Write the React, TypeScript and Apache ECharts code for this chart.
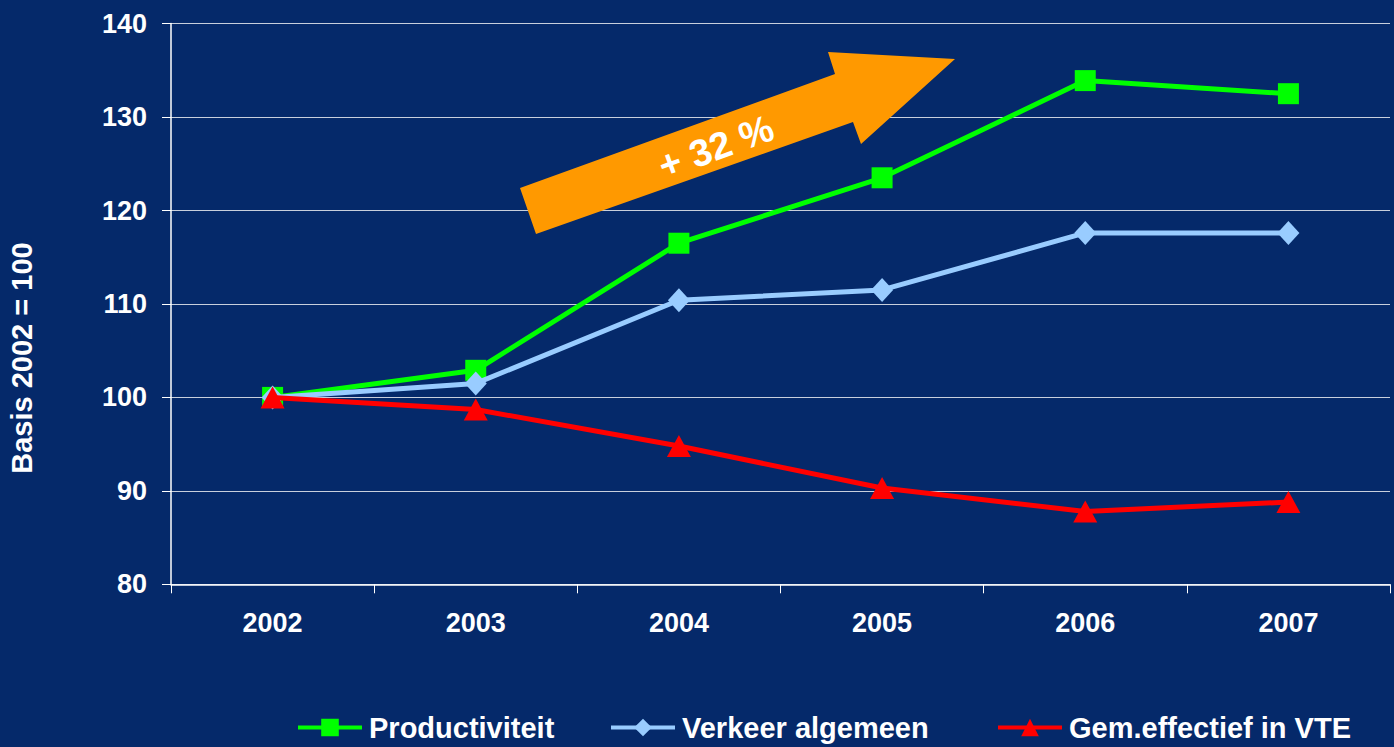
import React, { useEffect, useRef } from "react";
import * as echarts from "echarts";

const years = ["2002", "2003", "2004", "2005", "2006", "2007"];
const productiviteit = [100, 102.9, 116.5, 123.5, 133.9, 132.5];
const verkeer = [100, 101.5, 110.4, 111.5, 117.6, 117.6];
const effectief = [100, 98.7, 94.8, 90.3, 87.8, 88.8];
const seriesNames = ["Productiviteit", "Verkeer algemeen", "Gem.effectief in VTE"];
const yAxisTitle = "Basis 2002 = 100";
const arrowLabel = "+ 32 %";

const FONT = "'Liberation Sans', Arial, sans-serif";

export default function App() {
  const ref = useRef<HTMLDivElement>(null);
  useEffect(() => {
    if (!ref.current) return;
    const chart = echarts.init(ref.current, null, { renderer: "svg" });
    const textBase = { color: "#ffffff", fontFamily: FONT, fontWeight: "bold" as const };
    chart.setOption({
      animation: false,
      backgroundColor: "#05296a",
      grid: { left: 171, right: 4, top: 23.6, bottom: 162.7, containLabel: false },
      xAxis: {
        type: "category",
        data: years,
        boundaryGap: true,
        axisLine: { lineStyle: { color: "#ffffff", width: 1.5 } },
        axisTick: { show: true, length: 9, lineStyle: { color: "#ffffff" } },
        axisLabel: { ...textBase, fontSize: 27, margin: 25 },
        splitLine: { show: false },
      },
      yAxis: {
        type: "value",
        min: 80,
        max: 140,
        interval: 10,
        axisLine: { show: true, lineStyle: { color: "#ffffff", width: 1.5 } },
        axisTick: { show: true, length: 9, lineStyle: { color: "#ffffff" } },
        axisLabel: { ...textBase, fontSize: 27, margin: 24 },
        splitLine: { show: true, lineStyle: { color: "#c8cfdc", width: 1.2 } },
      },
      legend: [0, 1, 2].map((i) => ({
        data: [seriesNames[i]],
        left: [296, 609, 996][i],
        top: 713,
        padding: 0,
        itemWidth: 64,
        itemHeight: 22,
        lineStyle: { width: 4 },
        textStyle: { ...textBase, fontSize: 29, padding: [0, 0, 0, 2] },
      })),
      graphic: [
        {
          type: "polygon",
          shape: {
            points: [
              [520, 188],
              [835, 74],
              [828, 52],
              [955, 59],
              [861, 144],
              [853, 122],
              [536, 234],
            ],
          },
          style: { fill: "#ff9900" },
          z: 1,
        },
        {
          type: "text",
          x: 716,
          y: 147,
          rotation: (20 * Math.PI) / 180,
          style: {
            text: arrowLabel,
            fill: "#ffffff",
            font: `bold 38px ${FONT}`,
            align: "center",
            verticalAlign: "middle",
          },
          z: 2,
        },
        {
          type: "text",
          x: 21.5,
          y: 358,
          rotation: Math.PI / 2,
          style: {
            text: yAxisTitle,
            fill: "#ffffff",
            font: `bold 29px ${FONT}`,
            align: "center",
            verticalAlign: "middle",
          },
        },
      ],
      series: [
        {
          name: seriesNames[0],
          type: "line",
          data: productiviteit,
          symbol: "rect",
          symbolSize: 21,
          lineStyle: { color: "#00ff00", width: 5 },
          itemStyle: { color: "#00ff00" },
          z: 3,
        },
        {
          name: seriesNames[1],
          type: "line",
          data: verkeer,
          symbol: "diamond",
          symbolSize: [22, 24],
          lineStyle: { color: "#99ccff", width: 5 },
          itemStyle: { color: "#99ccff" },
          z: 4,
        },
        {
          name: seriesNames[2],
          type: "line",
          data: effectief,
          symbol: "triangle",
          symbolSize: [24, 22],
          lineStyle: { color: "#ff0000", width: 5 },
          itemStyle: { color: "#ff0000" },
          z: 5,
        },
      ],
    });
    return () => chart.dispose();
  }, []);
  return (
    <div
      ref={ref}
      style={{ position: "fixed", left: 0, top: 0, width: 1394, height: 747 }}
    />
  );
}
